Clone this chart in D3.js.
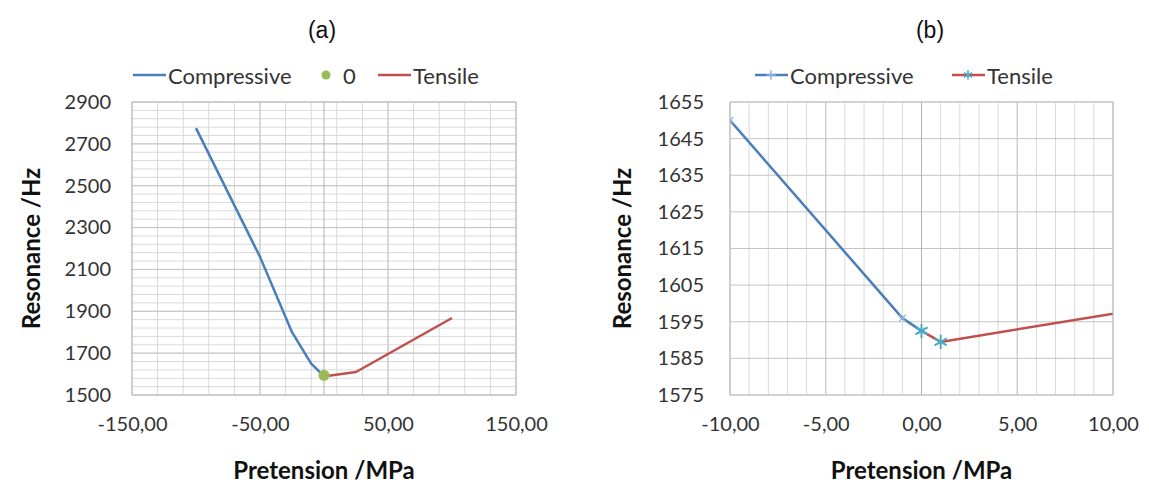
<!DOCTYPE html>
<html>
<head>
<meta charset="utf-8">
<script src="https://cdn.jsdelivr.net/npm/d3@7"></script>
<style>
  html, body { margin: 0; padding: 0; background: #fff; }
  svg { display: block; }
</style>
</head>
<body>
<svg id="chart" width="1149" height="488"></svg>
<script>
// Resonance frequency vs. pretension
const compressiveX = [-100, -50, -25, -10, -1, 0];
const compressiveY = [2775, 2160, 1800, 1650, 1596, 1592.5];
const tensileX = [0, 1, 25, 100];
const tensileY = [1592.5, 1589.5, 1610, 1868];
const zeroX = [0];
const zeroY = [1594];

const ticksA_x = [-150, -50, 50, 150];
const ticksA_y = [1500, 1700, 1900, 2100, 2300, 2500, 2700, 2900];
const ticksB_x = [-10, -5, 0, 5, 10];
const ticksB_y = [1575, 1585, 1595, 1605, 1615, 1625, 1635, 1645, 1655];

const BLUE = "#4a7ebb", RED = "#c0504d", GREEN = "#9bbb59", AQUA = "#4bacc6", LIGHTBLUE = "#8db4e2";
const FONT = "Lato, 'Open Sans', sans-serif";

const locale = d3.formatLocale({ decimal: ",", thousands: ".", grouping: [3], currency: ["", ""], minus: "-" });
const fmt2 = locale.format(".2f");

const svg = d3.select("#chart");

function zipPts(xs, ys) { return xs.map((x, i) => [x, ys[i]]); }

function panel(cfg) {
  const x = d3.scaleLinear().domain(cfg.xDomain).range(cfg.xRange);
  const y = d3.scaleLinear().domain(cfg.yDomain).range(cfg.yRange);
  const g = svg.append("g");

  const clipId = "clip-" + cfg.id;
  svg.append("clipPath").attr("id", clipId).append("rect")
    .attr("x", cfg.xRange[0]).attr("y", cfg.yRange[1])
    .attr("width", cfg.xRange[1] - cfg.xRange[0])
    .attr("height", cfg.yRange[0] - cfg.yRange[1]);

  // minor grid
  g.append("g").selectAll("line").data(cfg.xMinor).join("line")
    .attr("x1", d => x(d)).attr("x2", d => x(d))
    .attr("y1", cfg.yRange[0]).attr("y2", cfg.yRange[1])
    .attr("stroke", "#d9d9d9").attr("stroke-width", 1);
  g.append("g").selectAll("line").data(cfg.yMinor).join("line")
    .attr("y1", d => y(d)).attr("y2", d => y(d))
    .attr("x1", cfg.xRange[0]).attr("x2", cfg.xRange[1])
    .attr("stroke", "#d9d9d9").attr("stroke-width", 1);
  // major grid
  g.append("g").selectAll("line").data(cfg.xTicks).join("line")
    .attr("x1", d => x(d)).attr("x2", d => x(d))
    .attr("y1", cfg.yRange[0]).attr("y2", cfg.yRange[1])
    .attr("stroke", "#c4c4c4").attr("stroke-width", 1);
  g.append("g").selectAll("line").data(cfg.yTicks).join("line")
    .attr("y1", d => y(d)).attr("y2", d => y(d))
    .attr("x1", cfg.xRange[0]).attr("x2", cfg.xRange[1])
    .attr("stroke", "#c4c4c4").attr("stroke-width", 1);
  // vertical axis line at zero
  g.append("line")
    .attr("x1", x(0)).attr("x2", x(0))
    .attr("y1", cfg.yRange[0]).attr("y2", cfg.yRange[1])
    .attr("stroke", "#b0b0b0").attr("stroke-width", 1);

  // tick labels
  const yAxis = d3.axisLeft(y).tickValues(cfg.yTicks).tickSize(0).tickPadding(0).tickFormat(d3.format("d"));
  const ya = g.append("g").attr("transform", `translate(${cfg.yLabelX},0)`).call(yAxis);
  ya.select(".domain").remove();
  ya.selectAll("text").attr("font-family", FONT).attr("font-size", 20).attr("fill", "#333");

  const xAxis = d3.axisBottom(x).tickValues(cfg.xTicks).tickSize(0).tickPadding(0).tickFormat(fmt2);
  const xa = g.append("g").attr("transform", `translate(0,${cfg.xLabelY})`).call(xAxis);
  xa.select(".domain").remove();
  xa.selectAll("text").attr("font-family", FONT).attr("font-size", 20).attr("fill", "#333")
    .attr("y", 0).attr("dy", "0").attr("dominant-baseline", "central");

  // axis titles
  g.append("text")
    .attr("transform", `translate(${cfg.yTitleX},${(cfg.yRange[0] + cfg.yRange[1]) / 2}) rotate(-90)`)
    .attr("text-anchor", "middle").attr("dominant-baseline", "central")
    .attr("font-family", FONT).attr("font-weight", "bold").attr("font-size", 24).attr("fill", "#111")
    .text("Resonance /Hz");
  g.append("text")
    .attr("x", (cfg.xRange[0] + cfg.xRange[1]) / 2).attr("y", 479)
    .attr("text-anchor", "middle")
    .attr("font-family", FONT).attr("font-weight", "bold").attr("font-size", 24).attr("fill", "#111")
    .text("Pretension /MPa");

  // panel label
  g.append("text")
    .attr("x", cfg.titleX).attr("y", 38)
    .attr("text-anchor", "middle")
    .attr("font-family", "'Liberation Sans', Arial, sans-serif").attr("font-size", 23).attr("fill", "#111")
    .text(cfg.title);

  // series
  const line = d3.line().x(d => x(d[0])).y(d => y(d[1]));
  const plot = g.append("g").attr("clip-path", `url(#${clipId})`);
  plot.append("path").datum(zipPts(compressiveX, compressiveY))
    .attr("d", line).attr("fill", "none").attr("stroke", BLUE).attr("stroke-width", 2.5)
    .attr("stroke-linejoin", "round");
  plot.append("path").datum(zipPts(tensileX, tensileY))
    .attr("d", line).attr("fill", "none").attr("stroke", RED).attr("stroke-width", 2.5)
    .attr("stroke-linejoin", "round");

  if (cfg.markers) {
    const starC = d3.symbol().type(d3.symbolTimes).size(30);
    plot.append("g").selectAll("path").data(zipPts(compressiveX, compressiveY)).join("path")
      .attr("transform", d => `translate(${x(d[0])},${y(d[1])})`)
      .attr("d", starC).attr("fill", "none").attr("stroke", LIGHTBLUE).attr("stroke-width", 1.2);
    const starT = d3.symbol().type(d3.symbolAsterisk).size(140);
    plot.append("g").selectAll("path").data(zipPts(tensileX, tensileY)).join("path")
      .attr("transform", d => `translate(${x(d[0])},${y(d[1])})`)
      .attr("d", starT).attr("fill", "none").attr("stroke", AQUA).attr("stroke-width", 2);
  } else {
    plot.append("g").selectAll("circle").data(zipPts(zeroX, zeroY)).join("circle")
      .attr("cx", d => x(d[0])).attr("cy", d => y(d[1])).attr("r", 5.5).attr("fill", GREEN);
  }

  // plot border
  g.append("rect")
    .attr("x", cfg.xRange[0]).attr("y", cfg.yRange[1])
    .attr("width", cfg.xRange[1] - cfg.xRange[0]).attr("height", cfg.yRange[0] - cfg.yRange[1])
    .attr("fill", "none").attr("stroke", "#c4c4c4").attr("stroke-width", 1);

  // legend
  const lg = g.append("g").attr("font-family", FONT).attr("font-size", 22).attr("fill", "#333");
  cfg.legend.forEach(item => {
    if (item.kind === "line") {
      lg.append("line").attr("x1", item.x).attr("x2", item.x + 33).attr("y1", 75).attr("y2", 75)
        .attr("stroke", item.color).attr("stroke-width", 2.5);
      if (item.marker) {
        lg.append("path").attr("transform", `translate(${item.x + 16},75)`)
          .attr("d", d3.symbol().type(item.marker).size(item.msize)())
          .attr("fill", "none").attr("stroke", item.mcolor).attr("stroke-width", 1.5);
      }
      lg.append("text").attr("x", item.x + 35).attr("y", 75).attr("dominant-baseline", "central").text(item.label);
    } else {
      lg.append("circle").attr("cx", item.x).attr("cy", 75).attr("r", 4.5).attr("fill", item.color);
      lg.append("text").attr("x", item.x + 17).attr("y", 75).attr("dominant-baseline", "central").text(item.label);
    }
  });
}

panel({
  id: "a", title: "(a)", titleX: 322,
  xDomain: [-150, 150], xRange: [132, 516],
  yDomain: [1500, 2900], yRange: [395, 102],
  xTicks: ticksA_x, yTicks: ticksA_y,
  xMinor: d3.range(-150, 151, 20), yMinor: d3.range(1500, 2901, 40),
  yLabelX: 111, xLabelY: 423, yTitleX: 30,
  markers: false,
  legend: [
    { kind: "line", x: 133, color: BLUE, label: "Compressive" },
    { kind: "dot", x: 326, color: GREEN, label: "0" },
    { kind: "line", x: 378, color: RED, label: "Tensile" }
  ]
});

panel({
  id: "b", title: "(b)", titleX: 930,
  xDomain: [-10, 10], xRange: [730, 1113],
  yDomain: [1575, 1655], yRange: [395, 102],
  xTicks: ticksB_x, yTicks: ticksB_y,
  xMinor: d3.range(-10, 11, 1), yMinor: [],
  yLabelX: 704, xLabelY: 423, yTitleX: 621,
  markers: true,
  legend: [
    { kind: "line", x: 755, color: BLUE, label: "Compressive", marker: d3.symbolPlus, msize: 30, mcolor: LIGHTBLUE },
    { kind: "line", x: 952, color: RED, label: "Tensile", marker: d3.symbolAsterisk, msize: 60, mcolor: AQUA }
  ]
});
</script>
</body>
</html>
